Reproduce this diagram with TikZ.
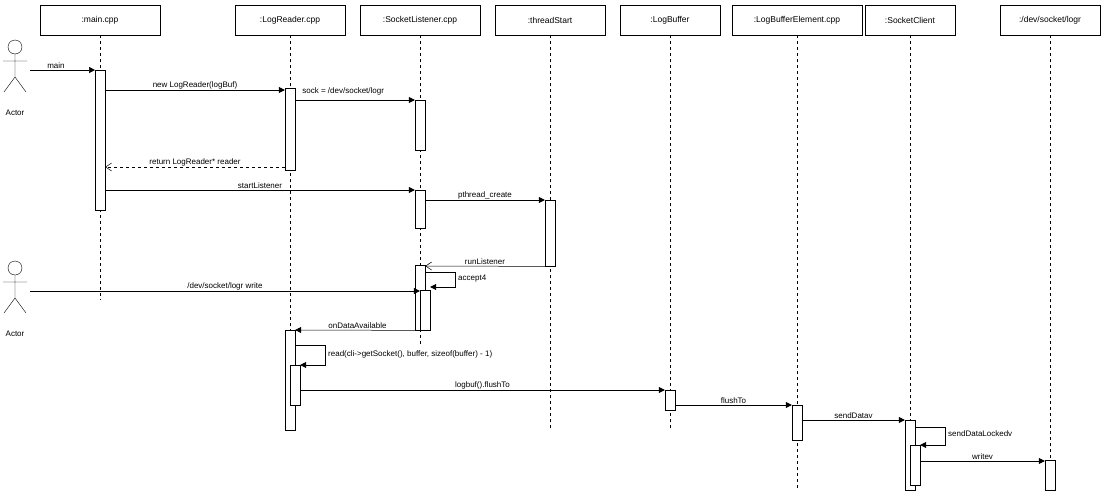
\documentclass[tikz,border=0pt]{standalone}
\usepackage{fontspec}
\setmainfont{Liberation Sans}
\usetikzlibrary{arrows.meta}
\begin{document}
\begin{tikzpicture}[x=1pt,y=-1pt,font=\fontsize{8}{9}\selectfont,
  hdr/.style={draw,fill=white,minimum width=#1,minimum height=30pt,inner sep=0pt,font=\fontsize{8.5}{10}\selectfont},
  life/.style={dash pattern=on 3pt off 3pt,line width=0.5pt},
  act/.style={draw,fill=white,minimum width=10pt,inner sep=0pt,anchor=north},
  msg/.style={-{Triangle[length=6pt,width=6pt]},line width=0.5pt},
  ret/.style={-{Straight Barb[length=6pt,width=8pt]},dashed,line width=0.5pt},
  lbl/.style={inner sep=1pt,anchor=south}]
\useasboundingbox (0,0) rectangle (1101,501);
% headers
\node[hdr=120pt] (h1) at (100,20) {:main.cpp};
\node[hdr=110pt] (h2) at (290,20) {:LogReader.cpp};
\node[hdr=120pt] (h3) at (420,20) {:SocketListener.cpp};
\node[hdr=110pt] (h4) at (550,20) {:threadStart};
\node[hdr=100pt] (h5) at (670,20) {:LogBuffer};
\node[hdr=130pt] (h6) at (797,20) {:LogBufferElement.cpp};
\node[hdr=90pt] (h7) at (910,20) {:SocketClient};
\node[hdr=100pt] (h8) at (1050,20) {:/dev/socket/logr};
% lifelines
\coordinate (e1) at (100,300); \coordinate (e2) at (290,430);
\coordinate (e3) at (420,345); \coordinate (e4) at (550,430);
\coordinate (e5) at (670,430); \coordinate (e6) at (797,490);
\coordinate (e7) at (910,490); \coordinate (e8) at (1050,490);
\foreach \i in {1,...,8} \draw[life] (h\i.south) -- (e\i);
% actors
\foreach \n/\y in {a1/47,a2/268}{
  \draw (15,\y) circle (7pt);
  \draw (15,\y+7) -- (15,\y+30) (3,\y+14) -- (27,\y+14) (15,\y+30) -- (4,\y+45) (15,\y+30) -- (26,\y+45);
  \node[inner sep=0pt] (\n) at (15,\y+66) {Actor};
  \coordinate (\n r) at (30,\y+23);
}
% activations
\node[act,minimum height=140pt] (m1) at (100,70) {};
\node[act,minimum height=82pt] (r1) at (290,88) {};
\node[act,minimum height=50pt] (s1) at (420,100) {};
\node[act,minimum height=38pt] (s2) at (420,190) {};
\node[act,minimum height=66pt] (t1) at (550,200) {};
\node[act,minimum height=65pt] (s3) at (420,265) {};
\node[act,minimum height=40pt] (s4) at (425,290) {};
\node[act,minimum height=100pt] (r2) at (290,330) {};
\node[act,minimum height=40pt] (r3) at (295,365) {};
\node[act,minimum height=20pt] (b1) at (670,390) {};
\node[act,minimum height=35pt] (l1) at (797,405) {};
\node[act,minimum height=70pt] (c1) at (910,420) {};
\node[act,minimum height=40pt] (c2) at (915,445) {};
\node[act,minimum height=30pt] (d1) at (1050,460) {};
% messages
\draw[msg] (30,70) -- (95,70) node[lbl,pos=0.4] {main};
\draw[msg] (m1.east|-0,90) -- (r1.west|-0,90) node[lbl,midway] {new LogReader(logBuf)};
\draw[msg] (r1.east|-0,100) -- (s1.north west) node[lbl,pos=0.05,anchor=south west,yshift=4pt] {sock = /dev/socket/logr};
\draw[ret] (r1.west|-0,167) -- (m1.east|-0,167) node[lbl,midway] {return LogReader* reader};
\draw[msg] (m1.east|-0,190) -- (s2.north west) node[lbl,midway] {startListener};
\draw[msg] (s2.east|-0,200) -- (t1.north west) node[lbl,midway] {pthread\_create};
\draw[ret,dash pattern=] (t1.south west) -- (s3.east|-0,266) node[lbl,midway] {runListener};
\draw[msg] (s3.east|-0,272) -- (455,272) -- (455,287) -- (s4.east|-0,287);
\node[anchor=west,inner sep=1pt] (acc) at (457,279) {accept4};
\draw[msg] (a2r) -- (s4.west|-0,291) node[lbl,midway] {/dev/socket/logr write};
\draw[msg] (s4.south west) -- (r2.north east) node[lbl,midway] {onDataAvailable};
\draw[msg] (r2.east|-0,345) -- (325,345) -- (325,365) -- (r3.north east);
\node[anchor=west,inner sep=1pt] (rd) at (327,354) {read(cli->getSocket(), buffer, sizeof(buffer) - 1)};
\draw[msg] (r3.east|-0,390) -- (b1.north west) node[lbl,midway] {logbuf().flushTo};
\draw[msg] (b1.east|-0,405) -- (l1.north west) node[lbl,midway] {flushTo};
\draw[msg] (l1.east|-0,420) -- (c1.north west) node[lbl,midway] {sendDatav};
\draw[msg] (c1.east|-0,427) -- (945,427) -- (945,445) -- (c2.north east);
\node[anchor=west,inner sep=1pt] (sdl) at (947,434) {sendDataLockedv};
\draw[msg] (c2.east|-0,461) -- (d1.west|-0,461) node[lbl,midway] {writev};
\end{tikzpicture}
\end{document}
